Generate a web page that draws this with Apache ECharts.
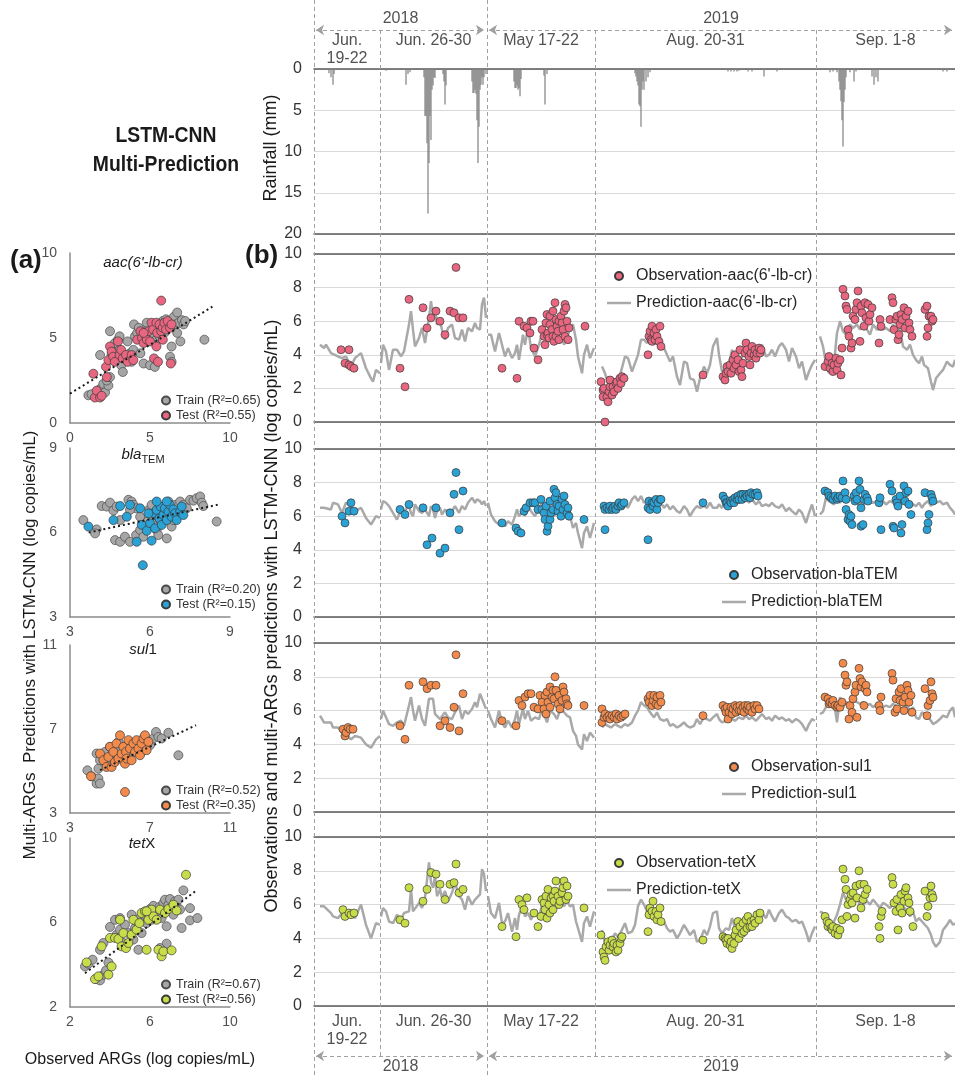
<!DOCTYPE html>
<html><head><meta charset="utf-8">
<script src="https://cdn.jsdelivr.net/npm/echarts@6/dist/echarts.min.js"></script>
<style>html,body{margin:0;padding:0;background:#fff}#c{width:955px;height:1077px}</style>
</head><body><div id="c"></div>
<script>
// ---------- time layout (hours of the concatenated monitoring timeline) ----------
const segBounds = [0, 66, 173, 281, 502, 641];
const periodLabels = ['Jun.\n19-22', 'Jun. 26-30', 'May 17-22', 'Aug. 20-31', 'Sep. 1-8'];
const yearBounds = [0, 173, 641];
const yearLabels = ['2018', '2019'];

// ---------- rainfall [hour, mm] ----------
const rainfall = [[15,0.5],[17,1.0],[19,1.9],[20,0.6],[72,0.2],[92,1.9],[94,0.6],[96,0.4],
[110,1.0],[111,5.7],[112,5.7],[113,9.0],[114,17.5],[115,11.4],[116,5.7],[117,8.6],[118,2.5],[119,2.0],[120,1.0],[121,1.1],
[129,0.6],[130,1.5],[131,4.3],[132,2.0],
[158,1.5],[159,2.9],[160,2.9],[161,2.5],[162,3.0],[163,6.2],[164,11.4],[165,7.0],[166,2.5],[167,1.9],[168,1.0],[169,1.9],[170,1.0],[172,0.6],
[200,1.5],[201,2.3],[202,2.3],[203,2.0],[204,2.5],[205,2.3],[206,3.3],[207,1.2],
[230,0.8],[231,4.3],[233,0.6],
[321,0.5],[322,0.9],[323,1.5],[324,2.0],[325,4.3],[326,4.5],[327,7.0],[328,2.5],[329,1.5],[330,2.5],[332,1.5],[334,1.0],[336,0.4],
[414,0.3],[417,0.3],[420,0.3],[423,0.3],[425,0.2],[434,0.3],[438,0.3],[450,0.9],[463,0.3],
[516,0.4],[519,0.3],[523,0.4],[525,1.5],[526,2.5],[527,3.9],[528,6.2],[529,9.4],[530,4.0],[531,2.5],[532,1.0],[536,0.4],[540,1.5],[542,0.3],[558,0.9],[560,1.9],[562,1.0],[564,1.5],
[629,0.3],[633,0.3]];

// ---------- LSTM-CNN predictions ----------
const predHours = [6,10,12,17,19,24,28,32,37,41,47,52,57,59,62,66,
67,69,72,75,79,83,87,90,95,97,99,101,105,108,111,115,117,119,121,123,126,128,131,134,138,141,145,148,151,154,158,161,163,166,168,170,172,
174,177,181,185,188,191,194,198,201,203,205,209,211,214,217,221,225,228,230,233,236,240,243,247,250,253,256,259,262,264,268,270,273,276,280,
288,291,294,297,301,304,307,311,314,318,321,324,327,330,333,336,340,343,346,350,353,356,359,363,366,370,373,376,380,383,386,390,393,396,399,403,405,408,412,415,418,421,425,429,432,435,438,442,445,448,452,455,458,461,465,468,472,475,478,482,485,488,492,495,498,501,
506,509,512,515,517,520,523,526,529,532,536,539,543,546,549,553,556,559,563,566,569,572,576,579,582,586,589,593,596,599,602,605,608,610,614,617,619,622,626,629,633,636,639,641];
const predAac = [4.6,4.4,4.6,4.1,4.0,3.9,3.8,3.9,3.3,3.8,4.1,3.2,2.6,2.4,3.1,2.9,
3.5,4.6,4.2,3.1,4.3,4.3,3.9,4.2,5.8,6.6,5.5,4.5,5.0,5.6,4.7,6.2,7.2,6.3,6.8,5.8,6.0,5.5,4.9,5.6,5.8,5.0,4.9,5.5,4.8,5.6,5.4,5.9,5.6,5.5,7.0,7.4,6.2,
5.2,5.2,4.2,5.3,4.6,3.9,4.4,3.8,4.1,4.6,3.7,5.2,4.6,5.6,4.4,3.9,4.6,5.3,5.6,5.0,5.4,5.0,5.4,5.6,4.6,4.9,5.7,5.8,4.9,3.9,2.9,4.0,4.6,3.8,4.4,
3.3,2.9,2.3,2.7,2.3,2.4,3.0,3.9,3.8,3.0,3.5,4.0,4.9,4.9,4.7,5.0,4.6,4.8,4.4,4.4,4.0,3.6,3.9,2.7,2.2,3.6,3.5,2.6,2.5,1.8,2.6,3.3,2.9,3.4,4.5,5.0,4.0,3.0,3.2,3.5,4.3,3.9,3.2,4.1,4.5,4.0,4.0,4.3,4.0,4.6,3.9,4.0,4.3,3.9,4.5,4.7,4.3,3.6,4.4,3.9,3.2,3.6,2.5,3.0,3.4,3.7,
5.1,4.5,3.5,2.9,3.7,3.5,5.3,6.0,5.4,5.2,5.8,5.6,5.8,5.5,5.8,5.5,5.2,5.8,5.5,5.5,5.5,5.6,5.4,5.8,5.5,5.5,4.5,4.3,4.6,4.0,3.7,3.5,3.9,3.4,3.2,2.4,1.9,2.6,2.9,3.1,3.6,3.4,3.3,3.7];
const predBla = [6.5,6.5,6.6,6.4,6.8,6.7,6.2,6.8,6.6,6.3,6.5,5.9,5.5,5.7,6.0,5.9,
6.4,6.9,6.8,6.6,6.2,5.8,6.4,6.3,6.6,6.2,6.0,6.7,6.3,6.2,6.4,6.0,6.6,6.4,5.9,6.3,6.5,6.1,6.4,6.2,6.3,6.6,6.2,6.6,6.4,6.8,7.1,6.8,7.0,6.9,6.7,6.9,6.6,
6.8,6.1,5.7,5.5,5.8,5.4,5.7,5.5,6.0,6.4,6.0,6.3,6.0,6.6,6.3,6.0,6.5,6.8,6.3,5.8,6.2,6.0,6.3,6.6,6.2,6.5,6.0,5.3,5.6,5.0,4.1,5.0,5.4,4.7,5.6,
6.4,6.5,6.3,6.6,6.4,6.5,6.6,6.7,6.5,7.0,7.2,6.9,7.2,6.8,6.9,6.6,7.0,6.7,6.9,6.5,6.7,6.4,6.6,6.3,6.2,6.6,6.4,6.0,6.4,6.6,6.5,6.6,6.5,6.8,6.5,6.5,6.7,6.5,6.8,6.9,6.7,7.0,6.8,6.9,7.0,6.8,7.0,6.7,6.9,6.6,6.7,6.6,6.8,6.6,6.5,6.7,6.3,6.5,6.3,6.1,6.4,6.2,5.6,6.2,6.7,6.0,
6.1,6.3,7.1,6.9,7.0,6.7,7.0,6.8,7.1,6.9,7.0,6.9,7.1,6.8,6.6,7.1,6.8,6.8,6.9,6.6,6.9,6.7,6.9,6.8,7.0,6.9,6.8,6.6,6.9,6.7,6.6,6.8,6.5,6.7,6.9,6.6,7.0,6.8,6.9,6.7,6.8,6.5,6.3,6.1];
const predSul = [5.7,5.3,5.3,5.3,5.0,5.0,4.7,4.6,4.3,4.5,4.4,4.0,3.8,3.9,4.3,4.5,
5.5,6.0,5.6,5.2,5.1,5.3,5.4,5.1,6.3,6.8,6.0,5.4,6.3,5.5,5.1,6.7,6.6,6.7,5.8,5.9,5.5,5.6,5.9,5.6,5.5,5.9,6.3,5.5,6.0,5.8,6.1,6.5,6.2,7.0,6.7,6.4,6.1,
6.0,5.5,5.0,6.0,5.3,5.0,5.4,5.0,5.5,6.0,5.2,6.1,5.5,6.0,5.4,5.6,5.5,6.1,5.8,5.3,6.0,5.8,5.5,6.2,5.9,5.7,5.6,4.8,4.5,4.0,3.7,4.6,4.2,4.7,4.4,
5.0,5.2,5.1,5.0,5.2,5.1,5.0,5.2,5.1,5.3,5.7,6.0,6.5,6.3,6.2,5.9,5.6,5.9,5.5,5.4,5.5,5.1,5.2,5.0,5.1,5.3,5.1,5.0,5.1,5.5,5.2,5.6,5.5,5.4,5.6,5.8,5.5,5.3,5.4,5.6,5.5,5.4,5.6,5.5,5.7,5.5,5.6,5.4,5.6,5.8,5.5,5.6,5.4,5.7,5.5,5.6,5.4,5.5,5.3,5.5,5.4,5.2,4.8,5.2,5.5,5.4,
5.8,5.9,6.2,6.4,6.3,6.5,5.3,6.8,6.2,6.5,6.4,6.6,6.5,6.4,6.5,6.3,6.4,6.2,6.4,6.3,6.2,6.3,6.2,6.4,6.3,6.0,6.1,6.3,6.0,6.2,5.6,5.5,5.9,5.8,5.6,5.4,5.2,5.3,5.5,5.7,5.6,6.0,6.2,5.6];
const predTet = [5.9,5.9,5.8,5.5,5.3,5.2,5.5,5.4,5.6,5.2,6.0,4.8,4.0,4.1,4.9,4.8,
5.3,5.8,5.6,5.0,4.9,5.4,5.1,5.5,5.6,6.9,5.6,5.7,6.1,5.8,6.4,8.5,7.3,7.0,7.7,6.5,6.9,6.4,6.8,6.2,6.7,7.3,6.5,6.3,5.7,6.5,6.0,6.3,6.2,6.6,8.1,7.8,6.8,
6.5,5.5,5.2,6.1,4.9,5.0,5.5,4.4,5.2,4.5,5.4,6.0,5.3,5.5,5.1,5.7,5.2,6.0,5.6,6.2,6.0,6.1,5.8,6.3,5.9,6.2,5.9,6.0,5.0,4.6,3.8,4.9,5.3,4.7,5.6,
4.5,3.7,3.5,3.8,4.3,4.1,4.4,4.9,4.3,4.4,4.8,5.9,6.3,6.0,5.6,5.4,5.5,5.2,4.9,5.0,4.6,4.4,4.5,4.0,4.3,4.8,4.5,4.2,4.5,3.8,3.9,4.5,4.2,4.7,5.5,5.6,4.6,4.3,4.6,4.5,5.2,4.6,4.3,4.6,4.8,5.1,4.9,5.4,5.0,5.5,5.2,5.7,5.3,5.0,5.5,5.7,5.3,5.2,5.0,5.1,4.9,5.0,4.4,3.8,4.3,4.7,
5.6,5.5,5.3,4.6,4.4,5.0,5.4,6.0,6.7,6.3,6.2,6.0,6.5,5.9,6.0,6.2,6.0,6.3,6.0,5.8,6.1,6.0,5.8,6.0,6.2,5.7,5.9,5.6,5.3,5.6,5.0,5.2,5.0,4.9,4.6,4.2,3.8,3.5,3.8,4.5,4.8,5.1,4.8,4.9];

// ---------- observations [hour, log copies/mL] ----------
const obsAac = [[27,4.3],[35,4.3],[31,3.5],[35,3.4],[37,3.3],[40,3.2],
[86,3.2],[91,2.1],[95,7.3],[109,6.8],[113,5.6],[117,6.2],[122,6.6],[126,6.0],[131,5.2],[136,6.6],[140,6.5],[142,9.2],[145,6.2],[149,6.2],
[188,3.2],[203,2.6],[205,6.0],[210,5.7],[213,5.6],[216,5.3],[217,6.0],[219,6.0],[220,4.4],[224,3.7],[228,5.5],[230,5.1],[231,4.6],[232,5.9],[233,6.4],[233,5.2],[234,5.3],[235,5.0],[236,5.8],[236,6.3],[238,5.5],[239,5.1],[239,6.6],[240,4.8],[241,7.1],[242,6.1],[242,5.1],[243,5.7],[244,5.4],[245,4.9],[245,6.0],[247,6.3],[248,5.9],[249,5.5],[250,6.6],[251,5.1],[251,7.0],[252,6.8],[253,6.0],[254,4.9],[255,5.6],[271,5.7],
[287,2.4],[289,1.9],[289,1.5],[290,2.0],[291,0.0],[293,1.5],[294,1.2],[295,1.8],[296,2.1],[296,2.5],[298,1.6],[299,2.1],[300,1.8],[302,2.3],[303,2.4],[304,2.0],[306,2.6],[307,2.3],[308,2.7],[310,2.6],
[334,4.0],[335,5.1],[336,5.4],[337,4.9],[338,5.7],[338,4.8],[340,5.3],[341,4.9],[342,5.5],[343,5.1],[345,4.8],[346,5.7],[347,4.5],
[389,2.8],[409,2.7],[411,2.5],[412,2.9],[413,3.3],[414,3.0],[416,3.4],[417,2.9],[419,3.7],[420,3.2],[421,4.0],[422,3.4],[424,3.7],[425,3.0],[426,4.3],[427,3.1],[428,2.7],[429,3.5],[431,4.1],[432,4.7],[433,4.3],[435,3.9],[436,3.4],[437,4.1],[438,4.5],[440,4.0],[441,4.3],[442,3.8],[443,4.1],[445,4.4],[446,4.1],[447,4.3],
[511,3.3],[514,3.6],[515,3.9],[516,3.2],[518,3.5],[519,3.0],[520,3.4],[522,3.8],[523,3.1],[524,3.5],[526,3.7],[527,2.8],[528,4.4],[529,7.9],[531,7.5],[532,6.9],[533,6.7],[534,5.5],[535,5.1],[537,4.4],[538,4.7],[539,6.3],[541,6.1],[542,6.7],[543,7.1],[544,7.8],[546,4.8],[547,6.9],[548,6.5],[550,5.7],[551,7.1],[552,6.2],[554,7.0],[555,6.0],[556,6.4],[558,6.8],[565,4.7],[566,6.1],[567,5.7],[576,6.1],[578,7.4],[579,7.1],[580,5.5],[582,6.1],[583,6.3],[584,4.9],[585,5.2],[586,5.8],[587,6.4],[588,6.1],[590,6.8],[591,5.6],[592,6.3],[594,6.6],[595,5.9],[596,5.5],[598,5.1],[611,6.7],[613,6.9],[613,5.1],[614,5.6],[615,6.3],[617,6.3],[618,6.0],[619,6.1]];
const obsBla = [[28,6.0],[31,5.6],[35,6.3],[37,6.8],[40,6.3],
[86,6.4],[91,6.1],[95,6.7],[109,6.5],[113,4.3],[118,4.7],[122,6.5],[126,3.8],[131,4.1],[136,6.2],[140,7.3],[142,8.6],[145,5.2],[149,7.5],
[188,5.6],[202,5.3],[204,5.1],[207,5.0],[210,6.3],[212,6.5],[216,6.8],[219,6.8],[221,6.8],[224,6.4],[227,7.0],[228,6.4],[230,6.2],[231,5.8],[232,6.6],[233,5.1],[234,5.4],[236,5.8],[236,6.9],[237,6.2],[239,6.4],[240,7.6],[241,7.1],[242,7.4],[243,6.7],[244,6.3],[245,6.6],[247,6.0],[248,7.0],[249,6.4],[250,7.2],[251,6.7],[253,6.2],[254,6.5],[255,6.0],[270,5.8],
[290,6.6],[291,6.4],[291,5.2],[293,6.5],[295,6.4],[296,6.6],[298,6.4],[299,6.5],[301,6.6],[302,6.4],[304,6.6],[305,6.8],[307,6.6],[308,6.7],[310,6.8],
[334,6.5],[334,4.6],[335,6.9],[336,6.4],[338,6.8],[339,6.6],[340,6.8],[342,7.0],[343,6.4],[344,6.8],[346,7.0],[347,7.0],
[389,6.8],[409,7.2],[411,7.0],[412,6.8],[413,6.8],[414,6.6],[416,6.9],[417,6.8],[419,7.0],[420,6.8],[421,7.1],[423,7.0],[424,7.2],[425,7.0],[427,7.3],[428,7.0],[429,7.3],[431,7.1],[432,7.3],[433,7.2],[435,7.3],[436,7.1],[437,7.4],[439,7.3],[441,7.3],[443,7.4],[444,7.2],
[511,7.5],[514,7.4],[515,7.2],[517,7.1],[519,7.0],[521,7.2],[523,7.0],[524,7.1],[526,7.2],[528,7.1],[529,8.1],[531,7.4],[532,7.0],[532,6.4],[534,5.8],[535,6.1],[536,5.7],[537,6.0],[538,5.5],[540,7.2],[541,6.9],[542,7.4],[543,7.0],[545,8.1],[546,7.6],[547,6.5],[547,5.4],[549,5.5],[550,7.0],[551,7.3],[553,7.1],[554,6.9],[565,6.8],[566,7.1],[567,5.2],[576,7.9],[578,7.5],[579,5.4],[580,5.3],[582,7.0],[583,6.8],[584,6.6],[586,7.2],[587,5.0],[588,5.5],[590,7.8],[591,6.9],[592,7.4],[594,7.5],[595,6.7],[597,6.1],[611,7.4],[613,5.2],[614,5.6],[615,6.1],[617,7.3],[618,7.1],[619,6.9]];
const obsSul = [[29,4.9],[31,4.5],[32,4.7],[34,5.0],[36,4.9],[39,4.9],
[86,5.1],[91,4.3],[95,7.5],[109,7.7],[113,7.3],[117,7.5],[122,7.5],[126,5.1],[131,5.4],[136,5.0],[140,6.2],[142,9.3],[145,4.8],[149,7.0],
[188,5.4],[202,5.1],[205,6.6],[208,6.3],[211,6.8],[214,7.0],[217,7.0],[220,6.2],[224,6.1],[226,6.9],[228,6.5],[230,6.1],[231,6.9],[232,5.8],[233,7.1],[234,6.5],[236,6.2],[236,7.4],[238,6.8],[239,7.2],[240,6.7],[241,8.0],[242,7.2],[244,6.4],[245,6.9],[246,6.1],[248,6.6],[249,7.4],[250,7.1],[252,6.7],[253,6.4],[254,6.3],[270,6.3],
[288,6.1],[288,5.3],[290,5.6],[291,5.8],[293,5.6],[295,5.7],[296,5.5],[298,5.7],[300,5.6],[302,5.8],[303,5.5],[305,5.7],[307,5.6],[309,5.7],[311,5.8],
[334,6.7],[335,6.5],[336,6.9],[338,6.3],[339,6.6],[340,6.9],[342,6.4],[343,6.8],[344,6.3],[346,6.9],[347,6.5],
[389,5.7],[409,6.3],[411,6.1],[412,5.9],[413,6.2],[414,5.5],[415,5.9],[417,6.2],[418,5.8],[419,6.1],[421,6.3],[422,5.9],[423,6.2],[425,6.0],[426,6.3],[427,6.0],[429,6.2],[430,5.9],[431,6.3],[433,6.1],[434,6.3],[435,6.0],[436,6.2],[438,5.9],[440,6.3],[441,6.1],[443,6.3],[445,6.1],
[511,6.8],[514,6.7],[515,6.4],[516,6.5],[518,6.4],[519,6.6],[521,6.3],[523,6.2],[524,6.3],[526,6.2],[528,6.5],[529,8.8],[531,8.1],[532,7.5],[533,7.7],[535,5.5],[536,6.3],[538,5.9],[539,6.7],[541,7.1],[542,7.5],[543,5.6],[545,8.5],[546,7.9],[547,7.4],[548,7.7],[550,6.3],[551,7.3],[552,7.5],[553,7.1],[565,6.3],[566,6.0],[567,6.8],[578,8.2],[579,7.8],[581,5.9],[582,6.7],[583,6.1],[585,7.1],[586,6.6],[587,7.3],[589,6.5],[590,6.0],[591,6.8],[593,7.5],[594,7.2],[595,6.5],[597,6.9],[598,5.9],[611,7.3],[613,5.7],[614,6.3],[616,6.6],[617,7.7],[618,7.0],[619,6.8]];
const obsTet = [[29,5.7],[31,5.3],[35,5.5],[37,5.4],[40,5.5],
[86,5.1],[91,4.9],[95,7.0],[109,6.2],[113,6.9],[117,7.9],[122,7.8],[126,7.2],[131,6.3],[136,7.2],[140,7.3],[142,8.4],[145,6.7],[149,6.9],
[188,4.7],[202,4.1],[205,6.3],[208,6.0],[210,5.7],[213,6.4],[220,5.5],[224,4.7],[227,5.3],[228,6.3],[230,6.1],[231,5.7],[232,6.5],[233,5.2],[234,6.9],[235,6.0],[236,5.5],[237,6.4],[239,5.7],[239,6.5],[240,6.2],[241,6.8],[242,7.4],[244,6.5],[245,6.0],[246,6.2],[248,6.7],[249,7.0],[250,7.4],[252,6.3],[253,7.1],[254,6.5],[270,5.8],
[287,4.2],[289,3.2],[290,2.9],[291,2.7],[292,3.5],[294,3.8],[295,3.3],[296,3.6],[298,3.9],[299,3.5],[300,3.7],[302,3.2],[303,3.6],[304,3.3],[306,3.7],[307,4.0],[308,4.1],
[334,4.4],[335,5.4],[336,5.8],[338,5.6],[339,6.2],[340,5.3],[342,5.6],[343,5.1],[344,5.4],[346,5.8],[347,5.0],
[389,3.9],[409,4.1],[411,4.0],[412,3.9],[413,3.7],[414,4.0],[416,3.6],[417,3.8],[418,3.4],[420,3.7],[421,4.2],[422,4.5],[424,5.0],[425,4.0],[426,4.7],[428,4.3],[429,4.9],[430,4.4],[432,5.1],[433,4.6],[434,5.3],[436,4.7],[437,5.0],[438,4.7],[440,5.1],[441,4.9],[443,5.4],[445,5.1],[446,5.5],
[511,5.3],[513,5.0],[514,4.7],[515,4.9],[517,4.6],[518,4.5],[519,4.7],[521,4.3],[523,4.6],[524,4.2],[526,4.5],[528,5.1],[529,8.1],[531,7.5],[532,6.9],[533,5.3],[534,6.0],[536,6.3],[537,6.6],[538,6.1],[539,6.7],[541,5.2],[542,7.1],[543,6.4],[545,8.0],[546,7.2],[547,5.8],[549,6.3],[550,7.2],[551,6.6],[553,6.9],[565,4.7],[566,4.0],[567,5.3],[568,5.6],[578,7.6],[579,7.2],[580,6.1],[582,5.6],[583,6.3],[584,4.5],[586,5.8],[587,6.6],[588,5.5],[590,6.2],[591,6.8],[592,7.0],[594,6.4],[595,6.1],[596,5.6],[599,4.7],[611,6.8],[613,5.3],[614,5.9],[616,6.4],[617,7.1],[618,6.6],[619,6.4]];

// ---------- (a) observed vs predicted [observed, predicted] ----------
const trainAac = [[1.15,1.63],[1.35,1.69],[1.67,1.57],[1.88,2.0],[2.08,2.3],[2.19,1.8],[2.4,2.2],[2.3,2.5],[2.5,2.7],[1.88,4.0],[2.5,5.4],[2.6,4.0],[2.7,4.4],[2.8,4.7],[2.9,3.7],[3.0,4.9],[3.1,4.3],[3.2,3.4],[3.3,3.0],[3.4,3.9],[3.6,4.8],[3.75,4.1],[3.85,3.6],[3.96,4.3],[4.06,5.1],[4.0,5.8],[4.2,5.3],[4.3,5.6],[4.5,4.9],[4.6,3.5],[4.8,5.4],[4.9,5.7],[5.0,3.4],[5.1,5.3],[5.2,5.6],[5.3,3.3],[5.4,4.9],[5.6,5.1],[5.7,5.6],[5.8,6.0],[5.9,5.3],[6.0,6.1],[6.1,5.7],[6.25,3.9],[6.35,3.6],[6.35,6.0],[6.5,6.25],[6.6,5.8],[6.7,6.5],[6.8,5.9],[6.9,4.8],[7.0,6.05],[7.1,5.8],[7.2,6.0],[6.7,5.3],[6.35,4.5],[8.4,4.9],[4.4,4.1],[3.1,5.1],[4.8,5.9]];
const testAac = [[1.46,2.9],[1.56,1.5],[1.67,1.9],[1.88,1.5],[1.98,1.6],[2.3,2.7],[2.25,3.3],[2.4,3.7],[2.5,4.5],[2.6,4.2],[2.7,3.9],[2.8,3.6],[3.0,4.8],[3.1,4.0],[3.2,4.3],[3.3,3.8],[3.5,4.0],[3.6,3.6],[3.85,4.0],[3.96,3.7],[4.2,4.9],[4.4,5.4],[4.5,5.0],[4.6,4.7],[4.7,5.2],[4.8,4.9],[4.9,5.4],[5.0,4.8],[5.1,5.9],[5.2,5.5],[5.25,3.8],[5.4,5.9],[5.45,5.3],[5.5,3.6],[5.6,5.8],[5.7,5.4],[5.7,7.2],[5.8,5.6],[5.9,5.9],[6.0,5.5],[6.1,6.0],[6.25,5.6],[6.35,5.8],[6.3,3.5],[5.8,4.9],[5.4,4.5],[4.6,5.3]];
const trendAac = [[0,1.73],[8.9,6.84]];
const trainBla = [[4.19,6.94],[4.38,6.92],[4.5,7.06],[4.63,6.78],[4.75,6.92],[5.19,7.16],[5.31,7.1],[5.38,6.98],[5.48,6.86],[5.25,6.8],[4.88,6.44],[4.69,5.73],[4.88,5.67],[5.06,5.85],[5.25,5.67],[5.48,5.91],[5.63,6.09],[5.75,5.85],[5.88,6.39],[5.98,6.82],[6.06,6.98],[6.13,6.33],[6.19,6.62],[6.25,6.09],[6.31,5.91],[6.38,6.44],[6.44,6.74],[6.5,6.92],[6.56,6.56],[6.63,5.79],[6.69,7.1],[6.75,6.8],[6.81,6.21],[6.88,6.44],[6.94,6.98],[7.0,6.68],[7.13,7.1],[7.25,6.98],[7.38,6.86],[7.5,7.16],[7.63,7.13],[7.75,7.22],[7.88,7.28],[7.94,7.06],[8.0,6.94],[8.5,6.39],[4.0,6.11],[3.5,6.44],[3.94,5.97],[5.63,6.56],[6.25,6.74]];
const testBla = [[3.69,6.21],[4.63,6.44],[4.88,6.94],[5.13,6.56],[5.25,6.98],[5.5,5.67],[5.69,6.27],[5.73,4.84],[5.88,6.06],[6.0,6.33],[6.06,5.71],[6.13,6.68],[6.19,6.15],[6.25,6.8],[6.35,6.5],[6.4,6.92],[6.44,6.27],[6.5,6.62],[6.56,6.86],[6.63,6.44],[6.69,6.74],[6.75,6.98],[6.81,6.56],[6.88,6.82],[6.94,6.68],[7.0,6.44],[7.13,6.74],[7.19,6.92],[7.25,6.62],[6.25,7.1],[6.63,7.1],[5.63,6.86],[5.94,6.68]];
const trendBla = [[3.7,6.0],[8.6,7.0]];
const trainSul = [[3.87,5.03],[4.08,4.75],[4.33,4.4],[4.42,4.64],[4.5,4.4],[4.42,5.11],[4.33,5.83],[4.5,5.51],[4.75,5.91],[5.0,6.15],[5.17,5.67],[5.33,5.91],[5.5,6.07],[5.67,5.67],[5.83,6.23],[6.0,5.91],[6.17,6.15],[6.33,5.99],[6.5,6.31],[6.67,6.07],[6.83,6.47],[7.0,6.23],[7.17,6.55],[7.3,6.86],[7.42,6.62],[7.58,6.55],[7.92,6.82],[8.42,5.75],[4.83,5.35],[5.83,5.51],[6.5,5.83],[5.42,6.39]];
const testSul = [[4.05,4.75],[4.5,5.83],[4.67,5.51],[4.83,5.19],[4.92,5.67],[5.0,6.15],[5.08,5.19],[5.17,5.91],[5.25,5.43],[5.33,6.31],[5.42,5.59],[5.5,6.7],[5.58,5.83],[5.67,6.15],[5.75,5.35],[5.8,5.91],[5.83,5.59],[5.92,6.47],[6.0,6.07],[6.08,5.51],[6.17,6.31],[6.25,5.91],[6.33,6.47],[6.42,6.07],[6.5,5.75],[6.58,6.31],[6.67,6.55],[6.75,6.7],[6.83,5.99],[6.92,6.39],[5.75,4.0]];
const trendSul = [[4.5,5.04],[9.3,7.18]];
const trainTet = [[2.75,3.92],[2.92,4.05],[3.13,4.24],[3.33,3.32],[3.5,3.26],[3.67,3.53],[3.8,3.73],[3.92,4.11],[3.5,4.71],[3.67,5.03],[4.0,5.79],[4.25,6.13],[4.33,5.42],[4.5,5.66],[4.67,5.03],[4.75,5.9],[4.92,5.5],[5.08,6.37],[5.17,5.19],[5.25,5.74],[5.33,6.05],[5.5,6.21],[5.58,5.5],[5.7,6.37],[5.83,5.97],[5.92,6.53],[6.0,6.64],[6.08,6.13],[6.17,6.79],[6.33,6.45],[6.47,6.73],[6.58,6.21],[6.67,6.92],[6.75,7.08],[6.83,6.61],[6.92,6.84],[7.0,7.11],[7.08,6.68],[7.17,6.37],[7.25,7.0],[7.33,6.79],[7.42,7.08],[7.5,6.61],[7.58,5.74],[7.67,7.52],[8.0,6.68],[8.0,6.1],[8.37,6.21],[6.83,5.0],[6.5,4.79],[5.42,4.71],[4.5,6.21],[6.83,5.82]];
const testTet = [[2.83,4.11],[3.25,3.32],[3.42,3.45],[3.58,4.87],[3.92,3.53],[4.08,3.92],[4.0,5.27],[4.25,5.27],[4.42,5.22],[4.58,4.87],[4.67,5.5],[4.8,4.79],[4.92,5.03],[5.08,5.42],[5.17,6.13],[5.33,5.66],[5.47,5.97],[5.58,6.45],[5.75,6.53],[5.83,4.71],[5.92,6.13],[6.08,6.61],[6.17,6.29],[6.33,6.13],[6.42,4.71],[6.5,6.61],[6.58,4.4],[6.67,4.63],[6.75,6.45],[6.92,6.64],[7.08,4.68],[7.17,6.84],[7.33,6.57],[7.8,8.26],[5.83,6.53],[4.5,6.13]];
const trendTet = [[2.75,3.6],[8.3,7.5]];

// ---------- axis ranges / tick labels of panel (a) ----------
const axA1 = {min:0, max:10, ticks:[0,5,10]};
const axA2 = {min:3, max:9, ticks:[3,6,9]};
const axA3 = {min:3, max:11, ticks:[3,7,11]};
const axA4 = {min:2, max:10, ticks:[2,6,10]};
const r2Train = ['0.65','0.20','0.52','0.67'];
const r2Test = ['0.55','0.15','0.35','0.56'];

// =================================================================
const FF = '"Liberation Sans", Arial, Helvetica, sans-serif';
const genes = [
  {name:"aac(6'-lb-cr)", color:'#E8667F', pred:predAac, obs:obsAac, train:trainAac, test:testAac, trend:trendAac, ax:axA1},
  {name:'blaTEM', color:'#2AA2D6', pred:predBla, obs:obsBla, train:trainBla, test:testBla, trend:trendBla, ax:axA2},
  {name:'sul1', color:'#F28A4C', pred:predSul, obs:obsSul, train:trainSul, test:testSul, trend:trendSul, ax:axA3},
  {name:'tetX', color:'#C9DD4B', pred:predTet, obs:obsTet, train:trainTet, test:testTet, trend:trendTet, ax:axA4}
];
const rightTops = [254, 449, 643, 837];
const rightH = [168, 168, 169, 169];
const leftTops = [253, 448, 645, 838];
const leftH = [170, 169, 168, 169];
const rLegendPos = [[602,263],[717,562],[717,754],[602,850]];
const lLegendTop = [389, 578, 779, 973];

function predData(vals){
  const inner = segBounds.slice(1, -1);
  const out = []; let prev = null;
  predHours.forEach((h, i) => {
    const s = inner.filter(b => h > b).length;
    if (prev !== null && s !== prev) out.push([h - 0.5, '-']);
    out.push([h, vals[i]]); prev = s;
  });
  return out;
}

const grid = [{left:314, right:0, top:0, bottom:0}, {left:314, right:0, top:69, height:165}];
rightTops.forEach((t,i)=>grid.push({left:314, right:0, top:t, height:rightH[i]}));
leftTops.forEach((t,i)=>grid.push({left:70, width:160, top:t, height:leftH[i]}));
grid.forEach(g=>{g.containLabel=false; g.outerBoundsMode='none';});

const borderLine = {show:true, onZero:false, lineStyle:{color:'#595959', width:1.5}};
const xAxis = [{gridIndex:0, type:'value', min:0, max:641, show:false}];
const yAxis = [{gridIndex:0, type:'value', min:0, max:1077, inverse:true, show:false}];
for (let g = 1; g <= 5; g++) {
  ['bottom','top'].forEach(pos => xAxis.push({gridIndex:g, type:'value', min:0, max:641, position:pos,
    axisLine:borderLine, axisTick:{show:false}, axisLabel:{show:false}, splitLine:{show:false}}));
}
yAxis.push({gridIndex:1, type:'value', min:0, max:20, interval:5, inverse:true,
  axisLine:{show:false}, axisTick:{show:false},
  axisLabel:{fontSize:16, color:'#333', margin:12, fontFamily:FF},
  splitLine:{show:true, lineStyle:{color:'#d9d9d9', width:1}}});
for (let g = 2; g <= 5; g++) {
  yAxis.push({gridIndex:g, type:'value', min:0, max:10, interval:2,
    axisLine:{show:false}, axisTick:{show:false},
    axisLabel:{fontSize:16, color:'#333', margin:12, fontFamily:FF},
    splitLine:{show:true, lineStyle:{color:'#d9d9d9', width:1}}});
}
const leftAxisLine = {show:true, onZero:false, lineStyle:{color:'#8c8c8c', width:1.5}};
genes.forEach((ge, i) => {
  const ax = ge.ax;
  const iv = (ax.min % (ax.ticks[1]-ax.ticks[0]) === 0) ? (ax.ticks[1]-ax.ticks[0]) : 1;
  const fmt = v => ax.ticks.indexOf(v) >= 0 ? String(v) : '';
  xAxis.push({gridIndex:6+i, type:'value', min:ax.min, max:ax.max, interval:iv, axisLine:leftAxisLine,
    axisTick:{show:false}, splitLine:{show:false},
    axisLabel:{fontSize:14, color:'#505050', margin:8, formatter:fmt, fontFamily:FF}});
  yAxis.push({gridIndex:6+i, type:'value', min:ax.min, max:ax.max, interval:iv, axisLine:leftAxisLine,
    axisTick:{show:false}, splitLine:{show:false},
    axisLabel:{fontSize:14, color:'#505050', margin:13, formatter:fmt, fontFamily:FF}});
});

const series = [];
// vertical period separators
const sepData = [];
segBounds.slice(0, -1).forEach(b => {
  const full = yearBounds.indexOf(b) >= 0;
  sepData.push({coords: full ? [[b, 0], [b, 1077]] : [[b, 30], [b, 1056]]});
});
series.push({type:'lines', coordinateSystem:'cartesian2d', xAxisIndex:0, yAxisIndex:0, silent:true, z:4,
  symbol:'none', lineStyle:{color:'#a0a0a0', width:1, type:[4,3], opacity:1}, data:sepData});
// year arrows (top & bottom)
const arrowData = [];
[30, 1056].forEach(y => {
  for (let i = 0; i < yearBounds.length - 1; i++) {
    arrowData.push({coords:[[yearBounds[i] + 2, y], [yearBounds[i+1] - 3, y]]});
  }
});
series.push({type:'lines', coordinateSystem:'cartesian2d', xAxisIndex:0, yAxisIndex:0, silent:true, z:4,
  symbol:['arrow','arrow'], symbolSize:8, lineStyle:{color:'#a0a0a0', width:1.2, type:[4,3], opacity:1}, data:arrowData});
// period / year labels
const labData = [];
periodLabels.forEach((t, i) => {
  const mid = (segBounds[i] + segBounds[i+1]) / 2;
  const two = t.indexOf('\n') >= 0;
  labData.push({name:t, value:[mid, two ? 50 : 41]});
  labData.push({name:t, value:[mid, two ? 1031 : 1022]});
});
yearLabels.forEach((t, i) => {
  const mid = (yearBounds[i] + yearBounds[i+1]) / 2;
  labData.push({name:t, value:[mid, 19]});
  labData.push({name:t, value:[mid, 1067]});
});
series.push({type:'scatter', xAxisIndex:0, yAxisIndex:0, silent:true, symbolSize:1, z:5,
  itemStyle:{color:'rgba(0,0,0,0)'}, data:labData,
  label:{show:true, position:'inside', formatter:p=>p.name, fontSize:16, color:'#262626', lineHeight:18, fontFamily:FF}});
// rainfall
series.push({type:'bar', xAxisIndex:1, yAxisIndex:1, data:rainfall, barWidth:1.2, silent:true,
  itemStyle:{color:'#808080'}});

const legends = [];
genes.forEach((ge, i) => {
  const xi = 3 + 2*i, yi = 2 + i;
  const obsName = 'Observation-' + ge.name, predName = 'Prediction-' + ge.name;
  series.push({type:'line', name:predName, xAxisIndex:xi, yAxisIndex:yi, data:predData(ge.pred),
    symbol:'none', showSymbol:false, connectNulls:false, silent:true,
    lineStyle:{color:'#a9a9a9', width:2.5}, itemStyle:{color:'#a9a9a9'}, z:3});
  series.push({type:'scatter', name:obsName, xAxisIndex:xi, yAxisIndex:yi, data:ge.obs, symbolSize:8, silent:true,
    itemStyle:{color:ge.color, borderColor:'#3a3a3a', borderWidth:0.7, opacity:1}, z:6});
  legends.push({left:rLegendPos[i][0], top:rLegendPos[i][1], orient:'vertical', itemGap:11, itemWidth:24, itemHeight:8,
    selectedMode:false, symbolKeepAspect:true, textStyle:{fontSize:16, color:'#262626', fontFamily:FF},
    data:[{name:obsName, icon:'circle'}, {name:predName, icon:'path://M0,0H24V2.5H0Z'}]});
  // panel (a)
  const trName = 'Train (R²=' + r2Train[i] + ')', teName = 'Test (R²=' + r2Test[i] + ')';
  series.push({type:'scatter', name:trName, xAxisIndex:11+i, yAxisIndex:6+i, data:ge.train, symbolSize:9, silent:true,
    itemStyle:{color:'#a6a6a6', borderColor:'#4a4a4a', borderWidth:0.7, opacity:1}, z:3});
  series.push({type:'scatter', name:teName, xAxisIndex:11+i, yAxisIndex:6+i, data:ge.test, symbolSize:9, silent:true,
    itemStyle:{color:ge.color, borderColor:'#3a3a3a', borderWidth:0.7, opacity:1}, z:4});
  series.push({type:'line', xAxisIndex:11+i, yAxisIndex:6+i, data:ge.trend, symbol:'none', silent:true,
    lineStyle:{color:'#1a1a1a', width:2, type:[2,3]}, z:5});
  legends.push({left:156, top:lLegendTop[i], orient:'vertical', itemGap:2, itemWidth:10, itemHeight:8,
    selectedMode:false, textStyle:{fontSize:12.5, color:'#333', fontFamily:FF},
    data:[{name:trName, icon:'circle'}, {name:teName, icon:'circle'}]});
});

function txt(x, y, text, size, opts){
  opts = opts || {};
  return {type:'text', x:x, y:y, rotation:opts.rot || 0, scaleX:opts.sx || 1, silent:true, z:10,
    style:{text:text, fontSize:size, fontWeight:opts.bold ? 'bold' : 'normal', fontFamily:opts.family || FF,
      fill:opts.color || '#1a1a1a', align:opts.align || 'center', verticalAlign:'middle',
      textAlign:opts.align || 'center', textVerticalAlign:'middle', lineHeight:opts.lh || size*1.2,
      rich:opts.rich}};
}
const itRich = {
  i:{fontStyle:'italic', fontSize:15, fontFamily:FF, fill:'#1a1a1a', lineHeight:20},
  n:{fontSize:15, fontFamily:FF, fill:'#1a1a1a', lineHeight:20},
  s:{fontSize:11, fontFamily:FF, fill:'#1a1a1a', lineHeight:10, verticalAlign:'bottom'}
};
const graphic = [
  txt(166, 150, 'LSTM-CNN\nMulti-Prediction', 22, {bold:true, lh:29, sx:0.88}),
  txt(10, 261, '(a)', 26, {bold:true, align:'left'}),
  txt(245, 256, '(b)', 26, {bold:true, align:'left'}),
  txt(271, 148, 'Rainfall (mm)', 18, {rot:Math.PI/2}),
  txt(272, 616, 'Observations and multi-ARGs predictions with LSTM-CNN (log copies/mL)', 18, {rot:Math.PI/2}),
  txt(30, 645, 'Multi-ARGs  Predictions with LSTM-CNN (log copies/mL)', 17, {rot:Math.PI/2}),
  txt(140, 1060, 'Observed ARGs (log copies/mL)', 16),
  txt(143, 263, "{i|aac(6'-lb-cr)}", 15, {rich:itRich}),
  txt(143, 455, '{i|bla}{s|TEM}', 15, {rich:itRich}),
  txt(143, 650, '{i|sul}{n|1}', 15, {rich:itRich}),
  txt(142, 844, '{i|tet}{n|X}', 15, {rich:itRich})
];

const chart = echarts.init(document.getElementById('c'), null, {renderer:'canvas'});
chart.setOption({
  animation:false,
  backgroundColor:'#ffffff',
  textStyle:{fontFamily:FF},
  grid:grid, xAxis:xAxis, yAxis:yAxis, series:series, legend:legends, graphic:graphic
});
</script>
</body></html>
